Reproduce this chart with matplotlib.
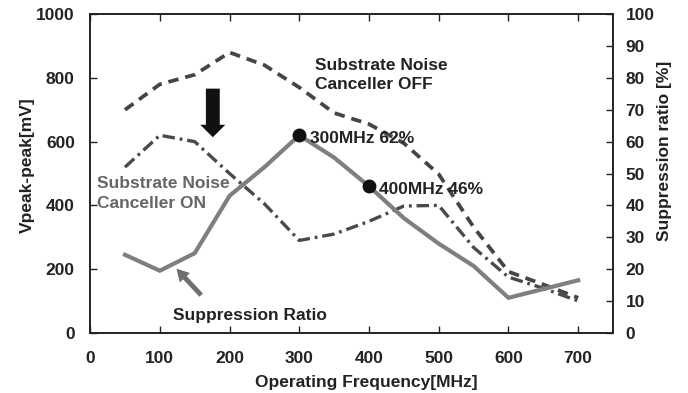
import matplotlib
matplotlib.use("Agg")
import matplotlib.pyplot as plt

plt.rcParams["font.family"] = ["Liberation Sans", "DejaVu Sans"]
plt.rcParams["font.weight"] = "bold"
plt.rcParams["lines.scale_dashes"] = False

# frequency points [MHz]
freq = [50, 100, 150, 200, 250, 300, 350, 400, 450, 500, 550, 600, 650, 700]
# Vpeak-peak [mV], canceller off / on
v_off = [700, 780, 810, 880, 840, 770, 690, 655, 595, 498, 332, 192, 152, 110]
v_on = [520, 620, 600, 500, 405, 290, 310, 350, 398, 400, 268, 175, 140, 100]
# suppression ratio [%]
sup_freq = [50, 100, 150, 200, 250, 300, 350, 400, 450, 500, 550, 600, 700]
sup_ratio = [24.5, 19.5, 25, 43, 52, 62, 55, 46, 36, 28, 21, 11, 16.5]
marked_freq = [300, 400]
marked_ratio = [62, 46]

x_ticks = [0, 100, 200, 300, 400, 500, 600, 700]
v_ticks = [0, 200, 400, 600, 800, 1000]
r_ticks = list(range(0, 101, 10))

fs = 12.5

fig = plt.figure(figsize=(6.88, 3.93), dpi=100)
ax = fig.add_axes([0.131, 0.153, 0.760, 0.811])
ax2 = ax.twinx()

ax.plot(freq, v_off, color="#454545", lw=2.7, dashes=(7.5, 5))
ax.plot(freq, v_on, color="#4a4a4a", lw=2.4, dashes=(9, 3.5, 2, 3.5))
ax2.plot(sup_freq, sup_ratio, color="#7f7f7f", lw=3.0, solid_joinstyle="miter")
ax2.plot(marked_freq, marked_ratio, "o", color="#111111", ms=9)

ax.set_xlim(0, 750)
ax.set_ylim(0, 1000)
ax2.set_ylim(0, 100)
ax.set_xticks(x_ticks)
ax.set_yticks(v_ticks)
ax2.set_yticks(r_ticks)

ax.tick_params(axis="x", direction="in", top=True, length=5, width=1,
               labelsize=fs, pad=13, colors="#222222")
ax.tick_params(axis="y", direction="in", length=5, width=1,
               labelsize=fs, pad=11, colors="#222222")
ax2.tick_params(axis="y", direction="in", length=5, width=1,
                labelsize=fs, pad=9, colors="#222222")
for a in (ax, ax2):
    for s in a.spines.values():
        s.set_linewidth(1.2)
        s.set_color("#222222")

ax.set_xlabel("Operating Frequency[MHz]", fontsize=fs, fontweight="bold",
              color="#222222")
ax.set_ylabel("Vpeak-peak[mV]", fontsize=fs, fontweight="bold",
              color="#222222")
ax2.set_ylabel("Suppression ratio [%]", fontsize=fs, fontweight="bold",
               color="#222222")
ax.xaxis.set_label_coords(0.528, -0.131)
ax.yaxis.set_label_coords(-0.105, 0.527)
ax2.yaxis.set_label_coords(1.084, 0.57)

ax.text(323, 810, "Substrate Noise\nCanceller OFF", fontsize=fs,
        fontweight="bold", color="#222222", va="center", linespacing=1.3)
ax.text(10, 437, "Substrate Noise\nCanceller ON", fontsize=fs,
        fontweight="bold", color="#666666", va="center", linespacing=1.4)
ax2.text(315, 61, "300MHz 62%", fontsize=fs, fontweight="bold",
         color="#222222", va="center")
ax2.text(415, 45, "400MHz 46%", fontsize=fs, fontweight="bold",
         color="#222222", va="center")
ax.text(119, 56, "Suppression Ratio", fontsize=fs, fontweight="bold",
        color="#222222", va="center")

# block arrow: canceller on lowers the noise
ax.annotate("", xy=(176, 605), xytext=(176, 775),
            arrowprops=dict(arrowstyle="simple,head_width=1.8,head_length=0.9,tail_width=1.0",
                            color="#111111", lw=0))
# arrow pointing at the suppression ratio line
ax.annotate("", xy=(121, 208), xytext=(162, 112),
            arrowprops=dict(arrowstyle="simple,head_width=1.0,head_length=0.9,tail_width=0.35",
                            color="#6f6f6f", lw=0))

fig.savefig("out.png", dpi=100)
